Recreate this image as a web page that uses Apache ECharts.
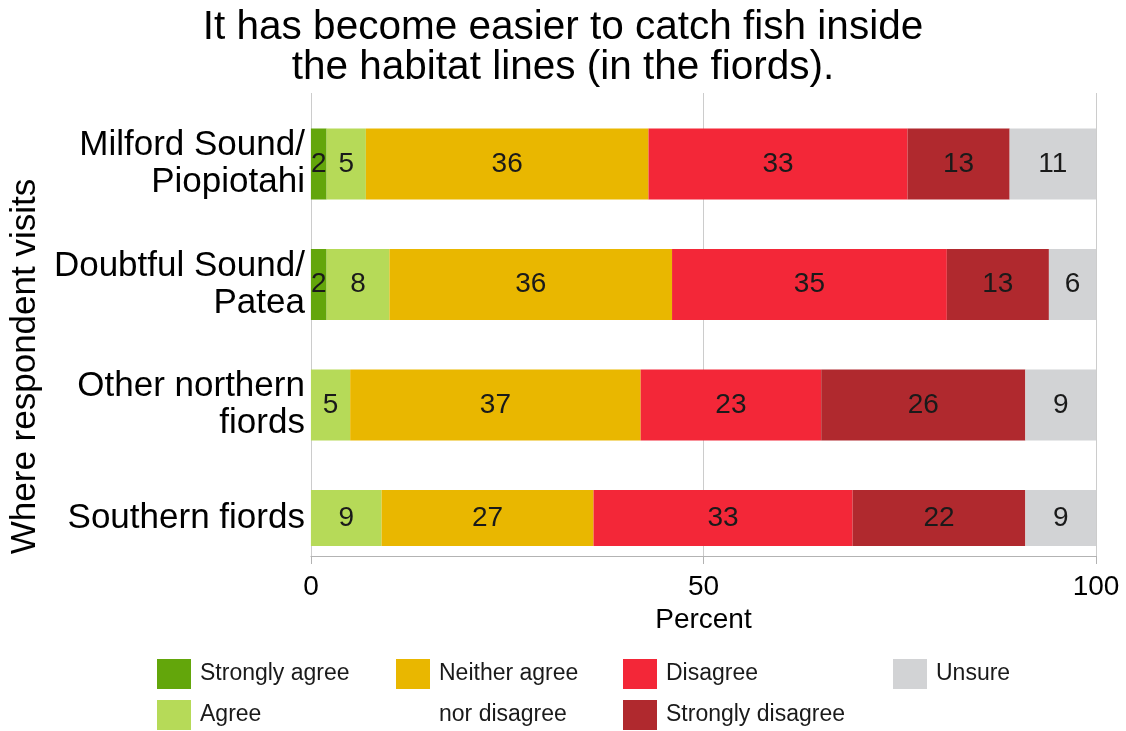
<!DOCTYPE html>
<html><head><meta charset="utf-8">
<script src="https://cdn.jsdelivr.net/npm/echarts@6/dist/echarts.min.js"></script>
<style>html,body{margin:0;padding:0;background:#fff}#c{width:1126px;height:731px}</style>
</head><body><div id="c"></div>
<script>
// ---- data ----
const categories = ['Milford Sound/\nPiopiotahi', 'Doubtful Sound/\nPatea', 'Other northern\nfiords', 'Southern fiords'];
const responses = ['Strongly agree', 'Agree', 'Neither agree nor disagree', 'Disagree', 'Strongly disagree', 'Unsure'];
const stronglyAgree    = [2, 2, 0, 0];
const agree            = [5, 8, 5, 9];
const neither          = [36, 36, 37, 27];
const disagree         = [33, 35, 23, 33];
const stronglyDisagree = [13, 13, 26, 22];
const unsure           = [11, 6, 9, 9];
const xTicks = [0, 50, 100];
const title = 'It has become easier to catch fish inside\nthe habitat lines (in the fiords).';

// ---- style ----
const colors = ['#63a60b', '#b6da58', '#e9b700', '#f32738', '#b0292e', '#d2d3d5'];
const FONT = '"Liberation Sans", Arial, sans-serif';
const BAR_THICK = 0.59;   // in category units
const Y_MIN = 0.411, Y_MAX = 4.253, CLIP_MAX = 4.17;

const seriesValues = [stronglyAgree, agree, neither, disagree, stronglyDisagree, unsure];
const cum = categories.map(() => 0);
const series = seriesValues.map((vals, k) => {
  const data = vals.map((v, i) => {
    const row = [i + 1, cum[i], cum[i] + v, v];
    cum[i] += v;
    return row;
  });
  return {
    type: 'custom',
    name: responses[k],
    itemStyle: { color: colors[k] },
    encode: { x: [1, 2], y: 0 },
    data: data,
    renderItem: function (params, api) {
      const pos = api.value(0), s = api.value(1), e = api.value(2), v = api.value(3);
      if (!(e > s)) return null;
      const a = api.coord([s, pos]);
      const b = api.coord([e, pos]);
      const half = Math.abs(api.size([0, BAR_THICK])[1]) / 2;
      const clipY = api.coord([0, CLIP_MAX])[1];
      const top = a[1] - half;
      const bottom = Math.min(a[1] + half, clipY);
      return {
        type: 'rect',
        shape: { x: a[0], y: top, width: b[0] - a[0], height: bottom - top },
        style: { fill: api.visual('color') },
        textContent: { style: { text: String(v), fontSize: 28, fill: '#1a1a1a', fontFamily: FONT } },
        textConfig: { position: 'inside' }
      };
    }
  };
});

const lastCenter = (categories.length - BAR_THICK / 2 + CLIP_MAX) / 2;
const labelPositions = categories.map((c, i) => i === categories.length - 1 ? lastCenter : i + 1);

const legendText = { fontSize: 23, color: '#1a1a1a', fontFamily: FONT, padding: [0, 0, 0, 4] };
function legendItem(name, left, top, extra) {
  return Object.assign({
    data: [name], left: left, top: top, padding: 0,
    icon: 'rect', itemWidth: 34, itemHeight: 30, selectedMode: false,
    textStyle: legendText
  }, extra || {});
}

const chart = echarts.init(document.getElementById('c'), null, { renderer: 'canvas' });
chart.setOption({
  backgroundColor: '#fff',
  animation: false,
  title: {
    text: title, left: 'center', top: 8, padding: 0,
    textStyle: { fontSize: 40.5, fontWeight: 'normal', color: '#000', fontFamily: FONT, lineHeight: 40 }
  },
  grid: { left: 309, right: 30, top: 93, bottom: 175, containLabel: false },
  xAxis: {
    type: 'value', min: xTicks[0], max: xTicks[xTicks.length - 1], interval: xTicks[1] - xTicks[0],
    name: 'Percent', nameLocation: 'middle', nameGap: 47,
    nameTextStyle: { fontSize: 28, color: '#000', fontFamily: FONT },
    axisLine: { show: true, lineStyle: { color: '#b3b3b3', width: 1 } },
    axisTick: { show: true, length: 8, lineStyle: { color: '#b3b3b3' } },
    axisLabel: { fontSize: 28, color: '#000', fontFamily: FONT, margin: 17 },
    splitLine: { show: true, lineStyle: { color: '#cccccc', width: 1 } }
  },
  yAxis: {
    type: 'value', inverse: true, min: Y_MIN, max: Y_MAX,
    name: 'Where respondent visits', nameLocation: 'middle', nameGap: 264,
    nameTextStyle: { fontSize: 35, color: '#000', fontFamily: FONT, padding: [0, 84, 0, 0] },
    axisLine: { show: false }, axisTick: { show: false }, splitLine: { show: false },
    axisLabel: {
      customValues: labelPositions,
      formatter: function (v) {
        const i = labelPositions.findIndex(p => Math.abs(p - v) < 1e-6);
        return i >= 0 ? categories[i] : '';
      },
      fontSize: 35, color: '#000', fontFamily: FONT, lineHeight: 37, margin: 6,
      align: 'right', padding: [0, 0, 24, 0]
    }
  },
  legend: [
    legendItem(responses[0], 157, 659),
    legendItem(responses[1], 157, 700),
    legendItem(responses[2], 396, 653.5, {
      icon: 'path://M0,0L0,0M0,5.5h34v30h-34zM0,82L0,82', itemHeight: 82,
      formatter: function () { return 'Neither agree\nnor disagree'; },
      textStyle: Object.assign({}, legendText, { lineHeight: 41 })
    }),
    legendItem(responses[3], 623, 659),
    legendItem(responses[4], 623, 700),
    legendItem(responses[5], 893, 659)
  ],
  series: series
});
</script></body></html>
